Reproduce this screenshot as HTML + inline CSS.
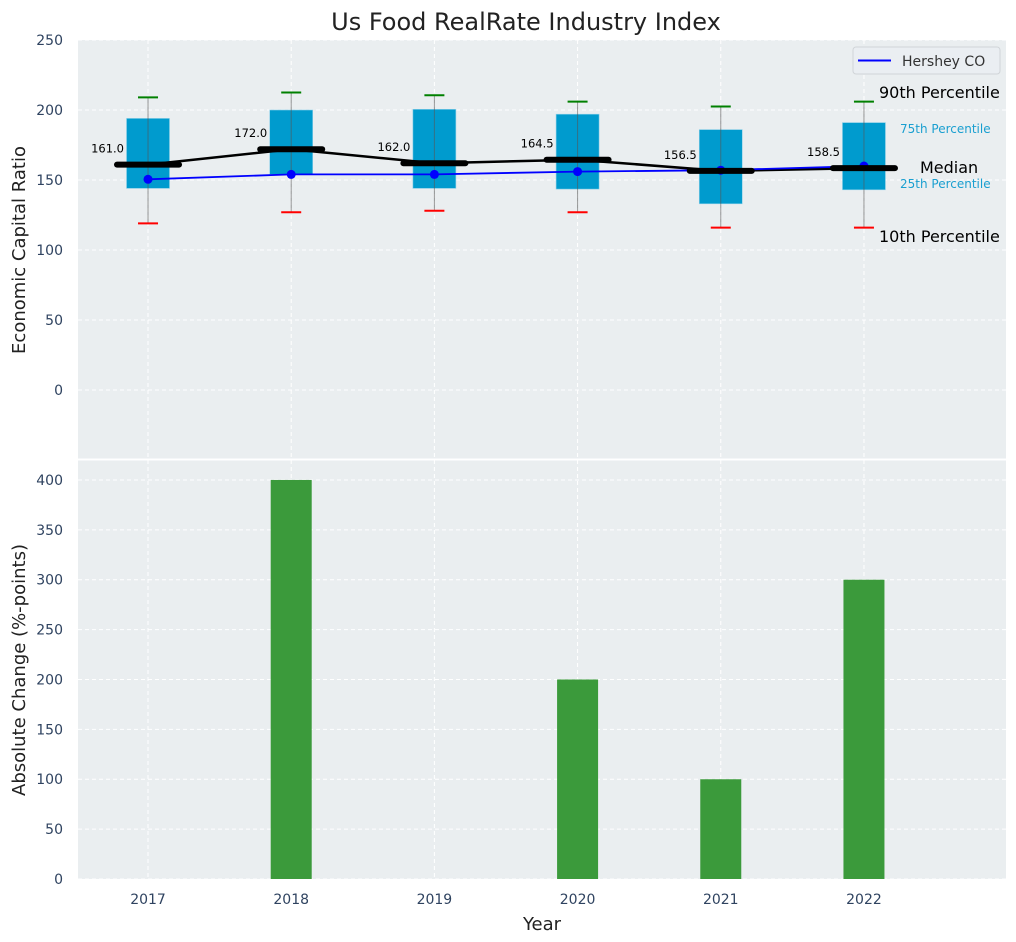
<!DOCTYPE html>
<html><head><meta charset="utf-8">
<style>
html,body{margin:0;padding:0;background:#fff;}
svg{display:block;font-family:"DejaVu Sans","Liberation Sans",sans-serif;}
</style></head>
<body>
<svg id="chart" width="1016" height="942" viewBox="0 0 1016 942" xmlns="http://www.w3.org/2000/svg">
<text x="526" y="30" font-size="24" text-anchor="middle" fill="#222">Us Food RealRate Industry Index</text>
</svg>
<script>
const years = ["2017","2018","2019","2020","2021","2022"];
const p10 = [119,127,128,127,116,116];
const q1 = [144,154,144,143.5,133,143];
const medians = [161,172,162,164.5,156.5,158.5];
const q3 = [194,200,200.5,197,186,191];
const p90 = [209,212.5,210.5,206,202.5,206];
const hershey = [150.5,154,154,156,157,160];
const changes = [0,400,0,200,100,300];
const topTicks = [0,50,100,150,200,250];
const botTicks = [0,50,100,150,200,250,300,350,400];

const NS="http://www.w3.org/2000/svg";
const svg=document.getElementById('chart');
function mk(tag,attrs,parent){const e=document.createElementNS(NS,tag);for(const k in attrs)e.setAttribute(k,attrs[k]);(parent||svg).appendChild(e);return e;}
const L=78,R=1006;
const xmin=-0.489,xmax=5.992;
const xs=i=>L+(i-xmin)/(xmax-xmin)*(R-L);
const T1=40,B1=459;
const y1=v=>390-v*1.4;
const T2=460,B2=879;
const y2=v=>B2-v*(B2-T2)/420;

let e=mk('rect',{x:L,y:T1,width:R-L,height:B1-T1,fill:'#eaeef0'});

e=mk('rect',{x:L,y:T2,width:R-L,height:B2-T2,fill:'#eaeef0'});


years.forEach((y,i)=>{
  mk('line',{x1:xs(i),x2:xs(i),y1:T1,y2:B1,stroke:'#fff','stroke-dasharray':'4,3','stroke-width':1});
  mk('line',{x1:xs(i),x2:xs(i),y1:T2,y2:B2,stroke:'#fff','stroke-dasharray':'4,3','stroke-width':1});
});
topTicks.forEach(t=>{
  mk('line',{x1:L,x2:R,y1:y1(t),y2:y1(t),stroke:'#fff','stroke-dasharray':'4,3'});
  const tx=mk('text',{x:L-15,y:y1(t)+5,'font-size':14,'text-anchor':'end',fill:'#2f4360'});tx.textContent=t;
  
});
botTicks.forEach(t=>{
  mk('line',{x1:L,x2:R,y1:y2(t),y2:y2(t),stroke:'#fff','stroke-dasharray':'4,3'});
  const tx=mk('text',{x:L-15,y:y2(t)+5,'font-size':14,'text-anchor':'end',fill:'#2f4360'});tx.textContent=t;
  
});
mk('line',{x1:L,x2:R,y1:459.5,y2:459.5,stroke:'#fff','stroke-width':2});

const bw=43, mw=62, cw=20;
years.forEach((y,i)=>{
  const x=xs(i);
  const b=mk('rect',{x:x-bw/2,y:y1(q3[i]),width:bw,height:y1(q1[i])-y1(q3[i]),fill:'#009bce',stroke:'#8fd0e8','stroke-width':0.6});
  
  mk('line',{x1:x,x2:x,y1:y1(p90[i]),y2:y1(p10[i]),stroke:'#555','stroke-opacity':0.6,'stroke-width':1});
  const c1=mk('line',{x1:x-cw/2,x2:x+cw/2,y1:y1(p90[i]),y2:y1(p90[i]),stroke:'#008000','stroke-width':2});
  
  const c2=mk('line',{x1:x-cw/2,x2:x+cw/2,y1:y1(p10[i]),y2:y1(p10[i]),stroke:'#ff0000','stroke-width':2});
  
});
let pts=medians.map((m,i)=>xs(i)+','+y1(m)).join(' ');
e=mk('polyline',{points:pts,fill:'none',stroke:'#000','stroke-width':2.5});

pts=hershey.map((m,i)=>xs(i)+','+y1(m)).join(' ');
e=mk('polyline',{points:pts,fill:'none',stroke:'#0000ff','stroke-width':1.8});

hershey.forEach((h,i)=>{
  const d=mk('circle',{cx:xs(i),cy:y1(h),r:4.5,fill:'#0000ff'});
  
});
medians.forEach((m,i)=>{
  const x=xs(i);
  const ml=mk('line',{x1:x-mw/2,x2:x+mw/2,y1:y1(m),y2:y1(m),stroke:'#000','stroke-width':6,'stroke-linecap':'round'});
  
  const t=mk('text',{x:x-24,y:y1(m)-12,'font-size':11.5,'text-anchor':'end',fill:'#000'});t.textContent=m.toFixed(1);
  
});

const ann=[["90th Percentile",879,98,16,"#000"],["75th Percentile",900,133,12,"#1a9fd0"],["Median",920,173,16,"#000"],["25th Percentile",900,188,12,"#1a9fd0"],["10th Percentile",879,242,16,"#000"]];
ann.forEach(a=>{const t=mk('text',{x:a[1],y:a[2],'font-size':a[3],fill:a[4]});t.textContent=a[0];
  });

const lg=mk('g',{});

mk('rect',{x:853,y:47,width:147,height:27,rx:3,fill:'#eaeef2',stroke:'#d0d4d8'},lg);
mk('line',{x1:858,x2:891,y1:60.5,y2:60.5,stroke:'#0000ff','stroke-width':2},lg);
let lt=mk('text',{x:902,y:66,'font-size':14,fill:'#333'},lg);lt.textContent='Hershey CO';

const barW=41;
changes.forEach((v,i)=>{
  if(v<=0) return;
  const r=mk('rect',{x:xs(i)-barW/2,y:y2(v),width:barW,height:B2-y2(v),fill:'#3b9a3b'});
  
});
years.forEach((y,i)=>{
  const t=mk('text',{x:xs(i),y:904,'font-size':14,'text-anchor':'middle',fill:'#2f4360'});t.textContent=y;
  
});
let at=mk('text',{x:542,y:930,'font-size':18,'text-anchor':'middle',fill:'#222'});at.textContent='Year';

at=mk('text',{x:0,y:0,'font-size':18,'text-anchor':'middle',fill:'#222',transform:'translate(25,250) rotate(-90)'});at.textContent='Economic Capital Ratio';

at=mk('text',{x:0,y:0,'font-size':18,'text-anchor':'middle',fill:'#222',transform:'translate(25,670) rotate(-90)'});at.textContent='Absolute Change (%-points)';

</script>
</body></html>
